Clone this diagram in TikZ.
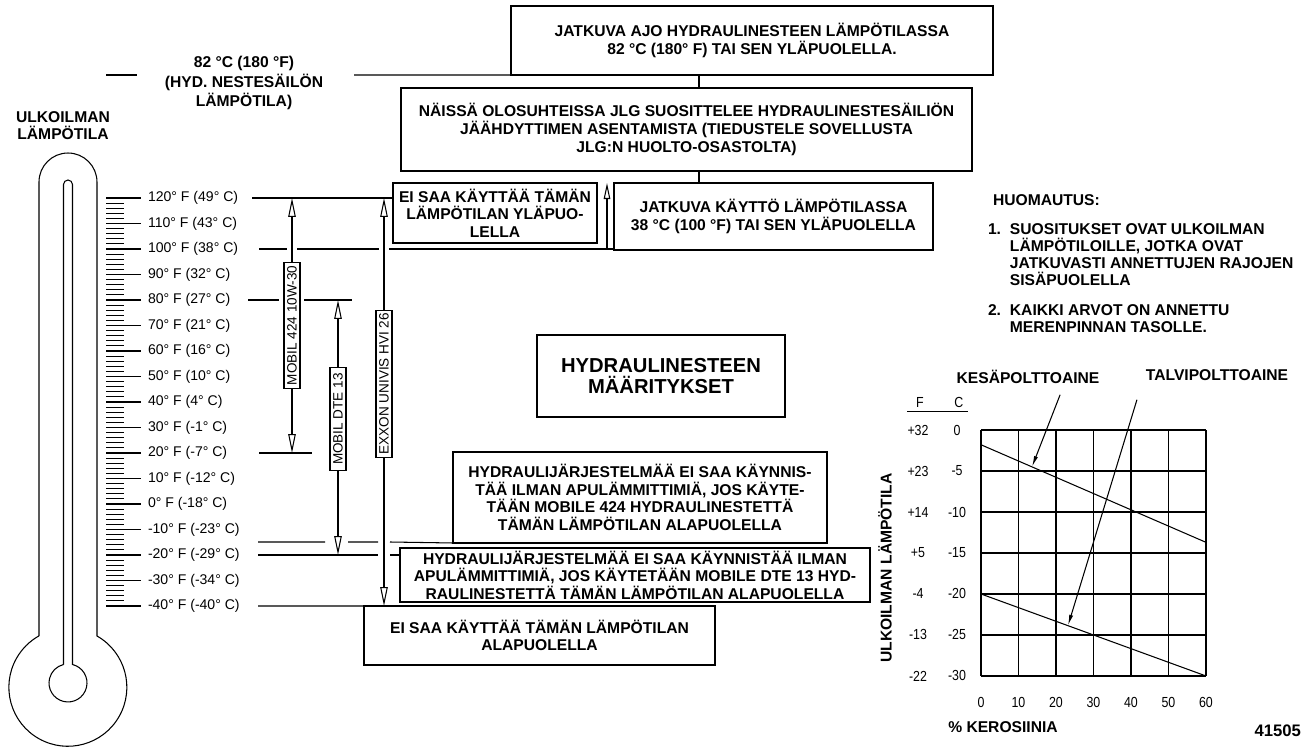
\documentclass[tikz,border=0pt]{standalone}
\usepackage{fontspec}
\setmainfont{Liberation Sans}
\newfontfamily\narrowsans[FakeStretch=0.85]{Liberation Sans}
\usetikzlibrary{arrows.meta, calc}
\newcommand{\boxfont}{\fontsize{8.9}{10}\selectfont\bfseries}

\begin{document}
\begin{tikzpicture}[
  x=0.02cm, y=-0.02cm,
  every node/.style={inner sep=0pt, outer sep=0pt},
  infobox/.style={draw, line width=1.1pt, align=center, font=\boxfont},
  heading/.style={align=center, font=\fontsize{8.9}{9.7}\selectfont\bfseries},
  note/.style={align=left, anchor=north west, font=\fontsize{8.9}{9.7}\selectfont\bfseries},
  scalelbl/.style={anchor=west, font=\fontsize{8}{9}\selectfont},
  oil/.style={draw, line width=0.6pt, fill=white, rotate=90, minimum height=0.32cm,
              font=\fontsize{7.7}{8}\selectfont},
  hair/.style={line width=0.6pt},
  gridline/.style={line width=0.8pt},
  oilrange/.style={hair, {Triangle[open, length=0.38cm, width=0.15cm]}-{Triangle[open, length=0.38cm, width=0.15cm]}},
  upar/.style={hair, -{Triangle[open, length=0.32cm, width=0.13cm]}},
  pointer/.style={hair, -{Latex[length=0.22cm, width=0.08cm]}},
  axnum/.style={font=\narrowsans\fontsize{8.3}{9}\selectfont}
]
\useasboundingbox (0,0) rectangle (1303,747);

% lampotilatasot ja sarakkeet
\coordinate (f120) at (0,198);
\coordinate (f100) at (0,249);
\coordinate (f80)  at (0,300);
\coordinate (f20)  at (0,453);
\coordinate (fm15) at (0,542);
\coordinate (fm20) at (0,555);
\coordinate (fm40) at (0,606);
\coordinate (c424) at (292,0);
\coordinate (cdte) at (338,0);
\coordinate (cexx) at (384,0);
\coordinate (kx)   at (699,0);
\coordinate (ax)   at (607,0);

% laatikot
\node[infobox, minimum width=9.64cm, minimum height=1.38cm] (ajo) at (752,40.5)
  {JATKUVA AJO HYDRAULINESTEEN LÄMPÖTILASSA\\82 °C (180° F) TAI SEN YLÄPUOLELLA.};
\node[infobox, minimum width=11.42cm, minimum height=1.66cm] (suositus) at (686.5,129.5)
  {NÄISSÄ OLOSUHTEISSA JLG SUOSITTELEE HYDRAULINESTESÄILIÖN\\JÄÄHDYTTIMEN ASENTAMISTA (TIEDUSTELE SOVELLUSTA\\JLG:N HUOLTO-OSASTOLTA)};
\node[infobox, minimum width=4.08cm, minimum height=1.2cm] (ylaraja) at (495,213)
  {EI SAA KÄYTTÄÄ TÄMÄN\\LÄMPÖTILAN YLÄPUO-\\LELLA};
\node[infobox, minimum width=6.38cm, minimum height=1.34cm] (kaytto) at (773.5,216.5)
  {JATKUVA KÄYTTÖ LÄMPÖTILASSA\\38 °C (100 °F) TAI SEN YLÄPUOLELLA};
\node[infobox, minimum width=4.96cm, minimum height=1.64cm,
      font=\fontsize{11.5}{11.5}\selectfont\bfseries] (otsikko) at (661,376)
  {HYDRAULINESTEEN\\MÄÄRITYKSET};
\node[infobox, minimum width=7.48cm, minimum height=1.82cm] (kaynnis424) at (640,497.5)
  {HYDRAULIJÄRJESTELMÄÄ EI SAA KÄYNNIS-\\TÄÄ ILMAN APULÄMMITTIMIÄ, JOS KÄYTE-\\TÄÄN MOBILE 424 HYDRAULINESTETTÄ\\TÄMÄN LÄMPÖTILAN ALAPUOLELLA};
\node[infobox, minimum width=9.4cm, minimum height=1.08cm] (kaynnisdte) at (635,575)
  {HYDRAULIJÄRJESTELMÄÄ EI SAA KÄYNNISTÄÄ ILMAN\\APULÄMMITTIMIÄ, JOS KÄYTETÄÄN MOBILE DTE 13 HYD-\\RAULINESTETTÄ TÄMÄN LÄMPÖTILAN ALAPUOLELLA};
\node[infobox, minimum width=7.02cm, minimum height=1.18cm] (alaraja) at (539.5,635.5)
  {EI SAA KÄYTTÄÄ TÄMÄN LÄMPÖTILAN\\ALAPUOLELLA};

\draw[hair] (ajo.south -| kx) -- (suositus.north -| kx);
\draw[hair] (suositus.south -| kx) -- (kaytto.north -| kx);
\draw[upar] (ax |- f100) -- (ax |- kaytto.north);

% sailion lampotila
\node[heading, font=\fontsize{8.9}{11.1}\selectfont\bfseries] (sailio) at (244,83)
  {82 °C (180 °F)\\(HYD. NESTESÄILÖN\\LÄMPÖTILA)};
\draw[hair] (106,75) -- (137,75);
\draw[hair] (354,75) -- (ajo.south west);

% lampomittari
\node[heading] (ulko) at (63,125.5) {ULKOILMAN\\LÄMPÖTILA};
\draw[hair] (39,636) -- (39,182) arc[start angle=180, end angle=0, radius=0.58cm] -- (97,636)
  arc[start angle=60.4, end angle=-240.4, radius=1.18cm];
\draw[hair] (63.5,664.5) -- (63.5,184.5) arc[start angle=180, end angle=0, radius=0.09cm] -- (72.5,664.5)
  arc[start angle=76.3, end angle=-256.3, radius=0.38cm];
\foreach \tf in {-38,-36,...,118} {
  \pgfmathsetmacro\yy{198+(120-\tf)*2.55}
  \draw[hair] (106,\yy) -- (124,\yy);
}
\foreach \tf/\tc [count=\i] in {120/49, 110/43, 100/38, 90/32, 80/27, 70/21, 60/16, 50/10,
    40/4, 30/-1, 20/-7, 10/-12, 0/-18, -10/-23, -20/-29, -30/-34, -40/-40} {
  \pgfmathsetmacro\yy{198+(120-\tf)*2.55}
  \draw[hair] (106,\yy) -- (141,\yy);
  \node[scalelbl] (lbl\i) at (148,\yy) {\tf° F (\tc° C)};
}

% rajaviivat
\draw[hair] (252,198) -- (ylaraja.west |- f120);
\draw[hair] (259,249) -- (287,249) (297,249) -- (379,249) (389,249) -- (kaytto.west |- f100);
\draw[hair] (248,300) -- (279,300) (304,300) -- (352,300);
\draw[hair] (259,453) -- (312,453);
\draw[hair] (258,542) -- (325,542) (348,542) -- (378,542) (390,542) -- (kaynnis424.south west);
\draw[hair] (258,555) -- (378,555) (390,555) -- (kaynnisdte.west |- fm20);
\draw[hair] (258,606) -- (alaraja.north west);

% oljyt
\draw[oilrange] (c424 |- f120) -- (c424 |- f20)
  node[oil, pos=0.5, minimum width=2.52cm] (m424) {MOBIL 424 10W-30};
\draw[oilrange] (cdte |- f80) -- (cdte |- fm20)
  node[oil, pos=0.467, minimum width=2.06cm] (mdte) {MOBIL DTE 13};
\draw[oilrange] (cexx |- f120) -- (cexx |- fm40)
  node[oil, pos=0.455, minimum width=2.94cm] (exx) {EXXON UNIVIS HVI 26};

% huomautus
\node[heading, anchor=west] (huom) at (993,200) {HUOMAUTUS:};
\node[note] (item1) at (988,223.4)
  {\makebox[12.5pt][l]{1.}SUOSITUKSET OVAT ULKOILMAN\\\hspace*{12.5pt}LÄMPÖTILOILLE, JOTKA OVAT\\\hspace*{12.5pt}JATKUVASTI ANNETTUJEN RAJOJEN\\\hspace*{12.5pt}SISÄPUOLELLA};
\node[note] (item2) at (988,304.4)
  {\makebox[12.5pt][l]{2.}KAIKKI ARVOT ON ANNETTU\\\hspace*{12.5pt}MERENPINNAN TASOLLE.};

% kerosiinikaavio
\node[heading] (kesa) at (1028,377) {KESÄPOLTTOAINE};
\node[heading] (talvi) at (1217,375) {TALVIPOLTTOAINE};
\node[heading, rotate=90] (akseli) at (885,568) {ULKOILMAN LÄMPÖTILA};
\node[heading] (kero) at (1003,727) {\% KEROSIINIA};
\node[heading, font=\fontsize{9.5}{10}\selectfont\bfseries, anchor=east] (koodi) at (1301,731) {41505};

\begin{scope}[shift={(981,430)}, x=0.075cm, y=0.164cm]
  \foreach \p in {0,10,...,60} \draw[gridline] (\p,0) -- (\p,-30);
  \foreach \t in {0,-5,...,-30} \draw[gridline] (0,\t) -- (60,\t);
  \draw[hair] (0,-1.8) -- (60,-13.7);
  \draw[hair] (0,-20) -- (60,-30);
  \coordinate (kesa tail) at (21.1,4.3);
  \coordinate (kesa tip) at (13.6,-4.5);
  \coordinate (talvi tail) at (41.6,3.7);
  \coordinate (talvi tip) at (23.2,-23.87);
  \node[axnum] (hf) at (-16.3,3.3) {F};
  \node[axnum] (hc) at (-5.9,3.3) {C};
  \draw[hair] (-19.7,2.2) -- (-3.5,2.2);
  \foreach \tf/\tc [count=\i] in {+32/0, +23/-5, +14/-10, +5/-15, -4/-20, -13/-25, -22/-30} {
    \node[axnum] (yf\i) at (-16.8,\tc) {\tf};
    \node[axnum] (yc\i) at (-6.4,\tc) {\tc};
  }
  \foreach \p [count=\i] in {0,10,...,60}
    \node[axnum] (px\i) at (\p,-33.2) {\p};
\end{scope}
\draw[pointer] (kesa tail) -- (kesa tip);
\draw[pointer] (talvi tail) -- (talvi tip);
\end{tikzpicture}
\end{document}
